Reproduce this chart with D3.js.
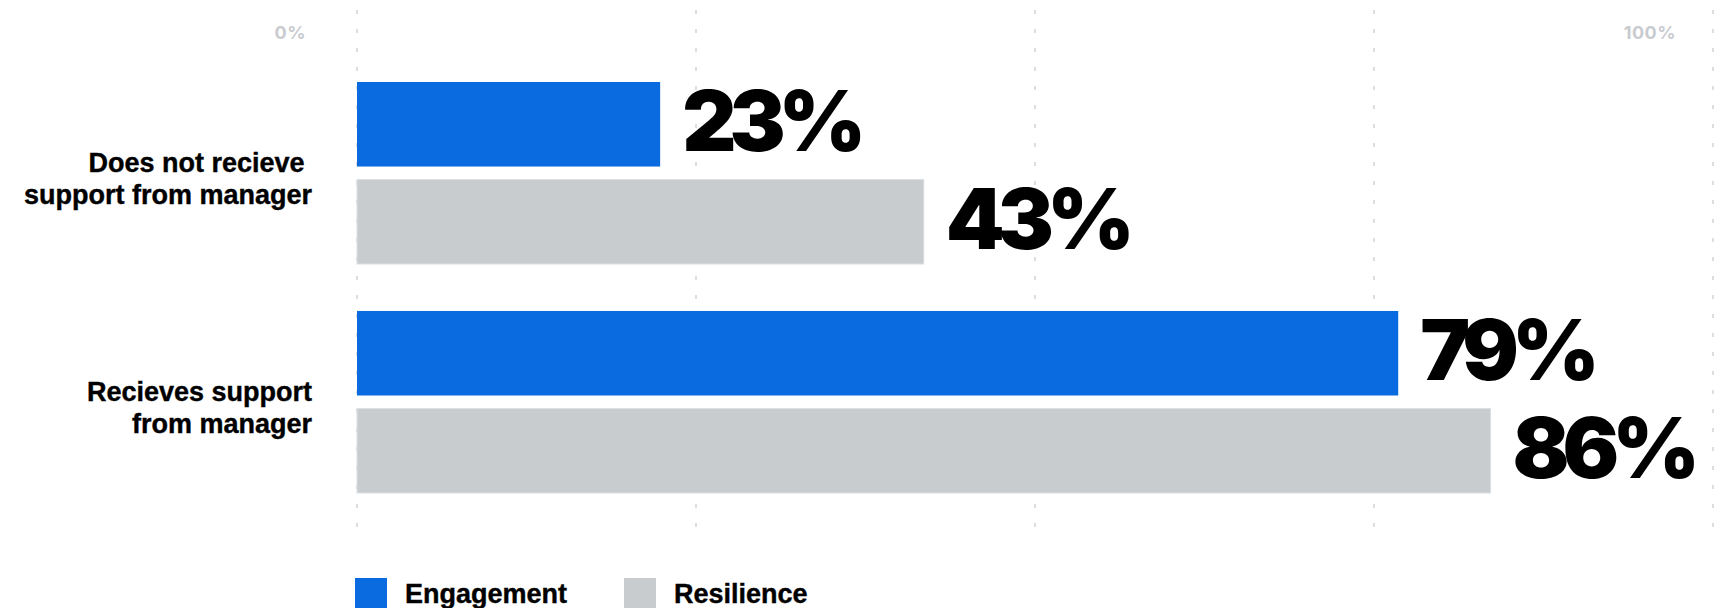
<!DOCTYPE html>
<html>
<head>
<meta charset="utf-8">
<script src="https://cdn.jsdelivr.net/npm/d3@7"></script>
<style>
  html, body { margin: 0; padding: 0; background: #ffffff; }
  svg { display: block; }
  .cat { font-family: "Liberation Sans", Arial, sans-serif; font-weight: 700; font-size: 27px; fill: #000; stroke: #000; stroke-width: 0.4px; white-space: pre; }
  .val { font-family: Inter, "Noto Sans", sans-serif; font-weight: 900; font-size: 84px; fill: #000; letter-spacing: -7px; }
  .tick { font-family: Inter, "Noto Sans", sans-serif; font-weight: 700; font-size: 18px; fill: #c8cbcf; letter-spacing: 0.5px; }
  .leg { font-family: "Liberation Sans", Arial, sans-serif; font-weight: 700; font-size: 27px; fill: #000; stroke: #000; stroke-width: 0.4px; }
</style>
</head>
<body>
<svg id="chart" width="1716" height="608"></svg>
<script>
// Survey results: share of employees, by manager support
const categories = ["Does not recieve \nsupport from manager", "Recieves support\nfrom manager"];
const series = ["Engagement", "Resilience"];
const engagement = [23, 79];
const resilience = [43, 86];
const tickLabels = ["0%", "100%"];
const seriesColors = ["#0a6adf", "#c8cccf"];

const svg = d3.select("#chart");

const rows = categories.map((c, i) => ({
  category: c,
  values: [
    { key: series[0], value: engagement[i] },
    { key: series[1], value: resilience[i] }
  ]
}));

// Scales
const x = d3.scaleLinear().domain([0, 100]).range([357, 1675]);
const grid = d3.scaleLinear().domain([0, 4]).range([357, 1713]);
const y0 = d3.scaleBand().domain(categories).range([82, 493]).paddingInner(0.205).paddingOuter(0);
const y1 = d3.scaleBand().domain(series).range([0, y0.bandwidth()]).paddingInner(0.133).paddingOuter(0);
const color = d3.scaleOrdinal().domain(series).range(seriesColors);

// Dashed vertical guides (behind bars)
svg.append("g").selectAll("line")
  .data(d3.range(5))
  .join("line")
  .attr("x1", d => grid(d)).attr("x2", d => grid(d))
  .attr("y1", 10).attr("y2", 536)
  .attr("stroke", "#d2d4d6")
  .attr("stroke-width", 1.5)
  .attr("stroke-dasharray", "4 15");

// Scale end labels
svg.append("g").selectAll("text")
  .data(tickLabels)
  .join("text")
  .attr("class", "tick")
  .attr("text-anchor", "end")
  .attr("x", (d, i) => i === 0 ? x(0) - 51 : x(100) + 1)
  .attr("y", 39)
  .text(d => d);

// Bar groups
const groups = svg.append("g").selectAll("g")
  .data(rows)
  .join("g")
  .attr("transform", d => `translate(0,${y0(d.category)})`);

groups.selectAll("rect")
  .data(d => d.values)
  .join("rect")
  .attr("x", x(0))
  .attr("y", d => y1(d.key))
  .attr("width", d => x(d.value) - x(0))
  .attr("height", y1.bandwidth())
  .attr("fill", d => color(d.key))
  .attr("stroke", d => d.key === series[1] ? "#dcdfe1" : "none")
  .attr("stroke-width", 1);

groups.selectAll("text.val")
  .data(d => d.values)
  .join("text")
  .attr("class", "val")
  .attr("x", d => x(d.value) + 22)
  .attr("y", d => y1(d.key) + y1.bandwidth() / 2 + 27)
  .text(d => d.value + "%");

// Category labels, two lines each, right-aligned
groups.append("text")
  .attr("class", "cat")
  .attr("text-anchor", "end")
  .attr("x", 312)
  .attr("y", y0.bandwidth() / 2 - 1)
  .selectAll("tspan")
  .data(d => d.category.split("\n"))
  .join("tspan")
  .attr("x", 312)
  .attr("dy", (d, i) => i === 0 ? 0 : 32)
  .text(d => d);

// Legend
const legend = svg.append("g").attr("transform", "translate(355,578)");
let offset = 0;
series.forEach(s => {
  const item = legend.append("g").attr("transform", `translate(${offset},0)`);
  item.append("rect").attr("width", 32).attr("height", 32).attr("fill", color(s));
  const t = item.append("text").attr("class", "leg").attr("x", 50).attr("y", 25).text(s);
  offset += 50 + t.node().getComputedTextLength() + 57;
});
</script>
</body>
</html>
